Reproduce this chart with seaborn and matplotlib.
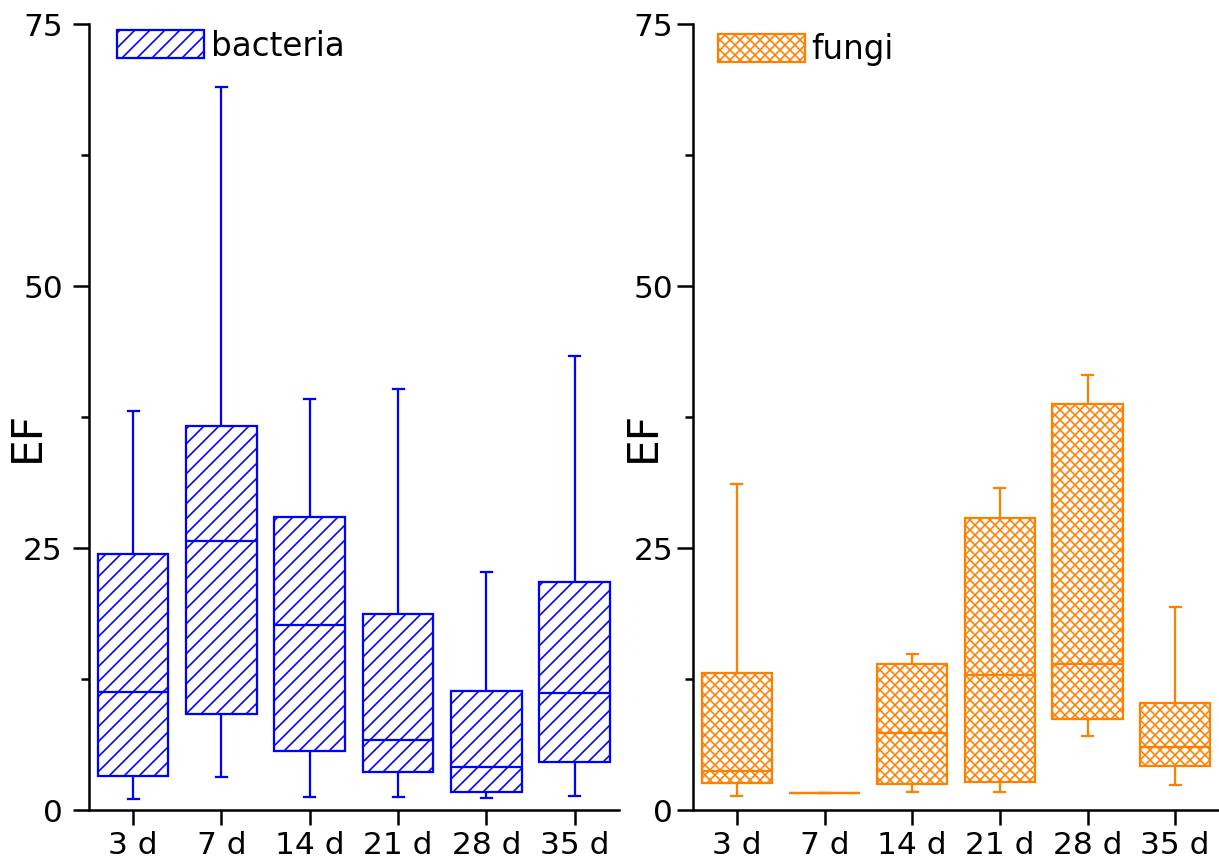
import matplotlib
matplotlib.use("Agg")
import matplotlib.pyplot as plt
import matplotlib.patches as mpatches
import pandas as pd
import seaborn as sns

# Sampling days (categories on the x axis)
days = ["3 d", "7 d", "14 d", "21 d", "28 d", "35 d"]

# Bacteria EF: min, lower quartile, median, upper quartile, max
bact_min = [1.05, 3.15, 1.27, 1.21, 1.11, 1.34]
bact_q1 = [3.2, 9.2, 5.6, 3.6, 1.7, 4.6]
bact_med = [11.3, 25.7, 17.7, 6.7, 4.1, 11.2]
bact_q3 = [24.4, 36.6, 28.0, 18.7, 11.4, 21.75]
bact_max = [38.1, 69.0, 39.2, 40.2, 22.7, 43.3]

# Fungi EF: min, lower quartile, median, upper quartile, max
fungi_min = [1.3, 1.6, 1.7, 1.72, 7.1, 2.36]
fungi_q1 = [2.6, 1.6, 2.5, 2.65, 8.7, 4.23]
fungi_med = [3.75, 1.6, 7.3, 12.85, 13.9, 6.04]
fungi_q3 = [13.1, 1.6, 13.9, 27.9, 38.7, 10.2]
fungi_max = [31.1, 1.6, 14.9, 30.7, 41.5, 19.4]

y_major = [0, 25, 50, 75]
y_minor = [12.5, 37.5, 62.5]

BLUE = "#0000ff"
ORANGE = "#ff8000"
DPI = 90
TICK_FS = 25
LEGEND_FS = 26

plt.rcParams["font.family"] = ["DejaVu Sans"]
plt.rcParams["hatch.linewidth"] = 1.3
plt.rcParams["axes.linewidth"] = 2.0


def long_table(lo, q1, med, q3, hi):
    """Five summary points per day; with whis=(0, 100) they reproduce the box stats."""
    rows = []
    for d, *vals in zip(days, lo, q1, med, q3, hi):
        for v in vals:
            rows.append({"day": d, "EF": v})
    return pd.DataFrame(rows)


def draw_panel(ax, df, color, hatch, label, ypad, legend_xy, label_x):
    sns.boxplot(
        data=df, x="day", y="EF", order=days, ax=ax,
        whis=(0, 100), width=0.8, color="white", linecolor=color,
        linewidth=1.8, fliersize=0, capwidths=0.125,
    )
    for p in ax.patches:
        p.set_facecolor("white")
        p.set_edgecolor(color)
        p.set_hatch(hatch)

    handle = mpatches.Patch(facecolor="white", edgecolor=color, hatch=hatch,
                            linewidth=1.8, label=label)
    ax.legend(handles=[handle], loc="upper left", bbox_to_anchor=legend_xy,
              frameon=False, fontsize=LEGEND_FS, handlelength=2.68,
              handleheight=0.95, handletextpad=0.2, borderpad=0,
              borderaxespad=0)

    sns.despine(ax=ax)
    ax.set_xlim(-0.5, 5.5)
    ax.set_ylim(0, 75)
    ax.set_yticks(y_major)
    ax.set_yticks(y_minor, minor=True)
    ax.tick_params(axis="y", which="major", length=12.8, width=2.0,
                   labelsize=TICK_FS, pad=ypad, colors="black")
    ax.tick_params(axis="y", which="minor", length=6.4, width=2.0, colors="black")
    ax.tick_params(axis="x", which="major", length=12, width=2.0,
                   labelsize=TICK_FS, pad=5, colors="black")
    ax.set_xlabel("")
    ax.set_ylabel("EF", fontsize=34, color="black")
    ax.yaxis.set_label_coords(label_x, 0.475)


fig = plt.figure(figsize=(1219 / DPI, 859 / DPI), dpi=DPI)
ax_b = fig.add_axes([89 / 1219, 49 / 859, 530 / 1219, 786 / 859])
ax_f = fig.add_axes([693 / 1219, 49 / 859, 526 / 1219, 786 / 859])

draw_panel(ax_b, long_table(bact_min, bact_q1, bact_med, bact_q3, bact_max),
           BLUE, "//", "bacteria", 8, (0.053, 0.993), -0.077)
draw_panel(ax_f, long_table(fungi_min, fungi_q1, fungi_med, fungi_q3, fungi_max),
           ORANGE, "xxx", "fungi", 3, (0.047, 0.988), -0.055)

fig.savefig("out.png", dpi=DPI)
